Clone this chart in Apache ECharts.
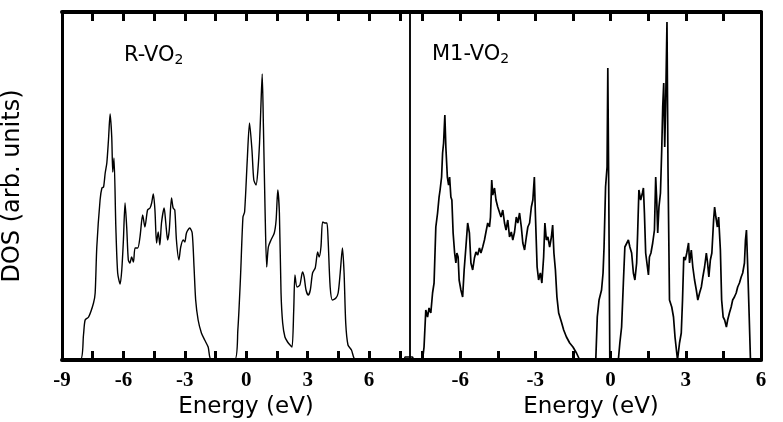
<!DOCTYPE html>
<html>
<head>
<meta charset="utf-8">
<script src="https://cdn.jsdelivr.net/npm/echarts@6/dist/echarts.min.js"></script>
<style>
html, body { margin: 0; padding: 0; background: #fff; }
#chart { width: 783px; height: 422px; }
</style>
</head>
<body>
<div id="chart"></div>
<script>
// Rutile VO2: total density of states vs energy (eV)
const rEnergy = [
  -9.0, -8.11, -7.95, -7.87, -7.70, -7.46, -7.38, -7.30, -7.14, -7.05, -6.97, -6.89, -6.81, -6.73,
  -6.65, -6.57, -6.52, -6.46, -6.37, -6.28, -6.16, -6.08, -6.00, -5.92, -5.84, -5.76, -5.68, -5.60,
  -5.51, -5.43, -5.30, -5.19, -5.06, -4.95, -4.82, -4.70, -4.62, -4.54, -4.46, -4.38, -4.30, -4.22,
  -4.14, -4.01, -3.93, -3.84, -3.76, -3.65, -3.57, -3.49, -3.41, -3.29, -3.20, -3.08, -3.00, -2.92,
  -2.76, -2.64, -2.55, -2.47, -2.35, -2.19, -2.03, -1.86, -1.70,
  -0.57, -0.41, -0.28, -0.16, -0.08, 0.05, 0.16, 0.28, 0.37, 0.48, 0.57, 0.65, 0.71, 0.78, 0.84,
  0.92, 1.00, 1.08, 1.21, 1.37, 1.46, 1.54, 1.62, 1.70, 1.78, 1.89, 2.02, 2.14, 2.24, 2.32, 2.38,
  2.48, 2.62, 2.75, 2.83, 2.92, 3.03, 3.13, 3.24, 3.37, 3.49, 3.56, 3.65, 3.73, 3.84, 3.94, 4.00,
  4.10, 4.21, 4.38, 4.49, 4.59, 4.70, 4.78, 4.86, 4.97, 5.14, 5.35,
  7.70, 7.76, 8.0
];
const rDos = [
  0, 0, 25, 40, 43, 57, 67, 113, 160, 172, 173, 187, 197, 220,
  246, 223, 188, 202, 133, 87, 76, 90, 120, 157, 133, 100, 97, 103,
  98, 112, 112, 123, 145, 133, 150, 152, 157, 166, 150, 117, 128, 115,
  137, 152, 137, 120, 130, 162, 152, 150, 120, 100, 113, 120, 118, 127,
  132, 127, 93, 60, 40, 27, 20, 13, 0,
  0, 30, 83, 143, 148, 200, 237, 210, 180, 175, 190, 217, 250, 286, 233,
  150, 93, 113, 120, 127, 140, 170, 147, 67, 37, 23, 18, 15, 13, 50, 85,
  73, 75, 88, 83, 70, 65, 70, 87, 92, 108, 103, 113, 138, 137, 137, 120,
  73, 60, 62, 67, 87, 112, 87, 37, 15, 10, 0,
  0, 3, 3
];

// Monoclinic M1 VO2: total density of states vs energy (eV)
const mEnergy = [
  -8.0, -7.9, -7.85, -7.50, -7.44, -7.37, -7.30, -7.24, -7.17, -7.10, -7.04, -6.97, -6.90, -6.84,
  -6.80, -6.74, -6.70, -6.66, -6.61, -6.57, -6.51, -6.46, -6.42, -6.37, -6.33, -6.28, -6.22, -6.17,
  -6.13, -6.08, -6.04, -5.97, -5.90, -5.84, -5.77, -5.70, -5.63, -5.57, -5.50, -5.43, -5.37, -5.30,
  -5.23, -5.17, -5.10, -5.03, -4.97, -4.90, -4.83, -4.79, -4.74, -4.70, -4.63, -4.57, -4.50, -4.43,
  -4.37, -4.30, -4.23, -4.17, -4.10, -4.03, -3.96, -3.90, -3.83, -3.76, -3.70, -3.63, -3.56, -3.50,
  -3.43, -3.36, -3.30, -3.23, -3.16, -3.10, -3.04, -3.00, -2.93, -2.87, -2.80, -2.74, -2.67, -2.62,
  -2.56, -2.50, -2.43, -2.36, -2.31, -2.26, -2.20, -2.14, -2.07, -1.96, -1.87, -1.76, -1.63, -1.50,
  -1.36, -1.23,
  -0.59, -0.53, -0.46, -0.36, -0.30, -0.26, -0.20, -0.14, -0.11, -0.07, -0.03,
  0.31, 0.37, 0.44, 0.51, 0.57, 0.64, 0.71, 0.77, 0.84, 0.91, 0.97, 1.04, 1.08, 1.13, 1.20, 1.27,
  1.31, 1.35, 1.40, 1.47, 1.51, 1.55, 1.61, 1.68, 1.75, 1.80, 1.84, 1.88, 1.93, 1.99, 2.04, 2.08,
  2.12, 2.16, 2.20, 2.25, 2.29, 2.35, 2.44, 2.51, 2.57, 2.67, 2.75, 2.82, 2.87, 2.92, 2.98, 3.04,
  3.11, 3.15, 3.22, 3.28, 3.35, 3.42, 3.48, 3.55, 3.62, 3.68, 3.75, 3.82, 3.87, 3.92, 3.98, 4.04,
  4.11, 4.15, 4.20, 4.26, 4.31, 4.38, 4.43, 4.49, 4.55, 4.62, 4.67, 4.74, 4.81, 4.87, 4.94, 5.01,
  5.07, 5.14, 5.21, 5.27, 5.34, 5.38, 5.42, 5.47, 5.53, 5.58, 6.0
];
const mDos = [
  3, 3, 0, 0, 13, 50, 43, 52, 47, 67, 77, 133, 147, 163,
  170, 183, 207, 217, 245, 213, 183, 175, 183, 163, 160, 127, 107, 97,
  107, 103, 80, 70, 63, 90, 113, 137, 127, 97, 90, 102, 108, 105,
  112, 107, 113, 120, 128, 137, 133, 143, 180, 165, 172, 160, 153, 155,
  143, 150, 137, 130, 140, 123, 128, 120, 128, 143, 137, 147, 133, 117,
  110, 123, 133, 137, 153, 160, 183, 147, 93, 80, 87, 77, 103, 137,
  120, 123, 113, 123, 135, 107, 90, 63, 47, 38, 30, 23, 17, 13,
  7, 0,
  0, 43, 60, 70, 87, 113, 173, 193, 292, 160, 0,
  0, 17, 33, 77, 113, 115, 120, 113, 107, 87, 80, 97, 127, 170, 160, 167,
  172, 147, 107, 93, 85, 103, 107, 117, 130, 183, 160, 127, 153, 167, 210, 253,
  277, 213, 260, 338, 193, 60, 53, 43, 23, 0, 17, 27, 60, 103, 100, 107,
  117, 97, 110, 93, 80, 70, 60, 67, 73, 83, 93, 107, 97, 83, 100, 107,
  140, 153, 143, 133, 143, 110, 60, 43, 40, 33, 40, 47, 53, 60, 63, 67,
  73, 77, 83, 87, 97, 120, 130, 93, 43, 0, 0
];

// Tick marks every 1.5 eV, labels every 3 eV
const leftTicks = [-7.5, -6, -4.5, -3, -1.5, 0, 1.5, 3, 4.5, 6, 7.5];
const leftLabels = [-9, -6, -3, 0, 3, 6];
const rightTicks = [-7.5, -6, -4.5, -3, -1.5, 0, 1.5, 3, 4.5];
const rightLabels = [-6, -3, 0, 3, 6];

const pairs = (xs, ys) => xs.map((x, i) => [x, ys[i]]);

const tickLabelStyle = {
  fontFamily: 'Liberation Serif',
  fontWeight: 'bold',
  fontSize: 21,
  color: '#000',
  margin: 10
};

function xAxes(grid, min, max, ticks, labels) {
  const common = {
    gridIndex: grid, type: 'value', min: min, max: max,
    splitLine: { show: false },
    axisLine: { onZero: false, lineStyle: { color: '#000', width: 4 } },
    axisTick: { inside: true, length: 9, customValues: ticks, lineStyle: { color: '#000', width: 3 } }
  };
  return [
    Object.assign({}, common, {
      position: 'bottom',
      axisLabel: Object.assign({ customValues: labels, showMinLabel: true, showMaxLabel: true }, tickLabelStyle)
    }),
    Object.assign({}, common, { position: 'top', axisLabel: { show: false } })
  ];
}

function yAxes(grid, leftWidth, rightWidth, extra) {
  const base = {
    gridIndex: grid, type: 'value', min: 0, max: 348,
    splitLine: { show: false }, axisTick: { show: false }, axisLabel: { show: false }
  };
  return [
    Object.assign({}, base, { position: 'left', axisLine: { onZero: false, lineStyle: { color: '#000', width: leftWidth } } }, extra || {}),
    Object.assign({}, base, { position: 'right', axisLine: { onZero: false, lineStyle: { color: '#000', width: rightWidth } } })
  ];
}

const chart = echarts.init(document.getElementById('chart'), null, { renderer: 'canvas' });

const option = {
  animation: false,
  backgroundColor: '#fff',
  grid: [
    { left: 60, right: 373, top: 12, bottom: 62 },
    { left: 410, right: 22, top: 12, bottom: 62 }
  ],
  xAxis: [].concat(
    xAxes(0, -9, 8, leftTicks, leftLabels),
    xAxes(1, -8, 6, rightTicks, rightLabels)
  ),
  yAxis: [].concat(
    yAxes(0, 3, 1.5, {
      name: 'DOS (arb. units)', nameLocation: 'middle', nameGap: 37,
      nameTextStyle: { fontFamily: 'DejaVu Sans', fontSize: 24, color: '#000' }
    }),
    yAxes(1, 1.5, 3)
  ),
  series: [
    {
      type: 'line', xAxisIndex: 0, yAxisIndex: 0,
      data: pairs(rEnergy, rDos),
      showSymbol: false, smooth: 0.25,
      lineStyle: { color: '#000', width: 1.4 }
    },
    {
      type: 'line', xAxisIndex: 2, yAxisIndex: 2,
      data: pairs(mEnergy, mDos),
      showSymbol: false,
      lineStyle: { color: '#000', width: 1.7 }
    }
  ],
  graphic: [
    {
      type: 'text', left: 124, top: 44,
      style: {
        text: '{a|R-VO}{s|2}',
        rich: {
          a: { fontFamily: 'DejaVu Sans', fontSize: 21, fill: '#000', lineHeight: 26 },
          s: { fontFamily: 'DejaVu Sans', fontSize: 14, fill: '#000', lineHeight: 26, padding: [9, 0, 0, 0] }
        }
      }
    },
    {
      type: 'text', left: 432, top: 43,
      style: {
        text: '{a|M1-VO}{s|2}',
        rich: {
          a: { fontFamily: 'DejaVu Sans', fontSize: 21, fill: '#000', lineHeight: 26 },
          s: { fontFamily: 'DejaVu Sans', fontSize: 14, fill: '#000', lineHeight: 26, padding: [9, 0, 0, 0] }
        }
      }
    },
    {
      type: 'text', x: 246, y: 407,
      style: { text: 'Energy (eV)', fontFamily: 'DejaVu Sans', fontSize: 23, fill: '#000', align: 'center', verticalAlign: 'middle' }
    },
    {
      type: 'text', x: 591, y: 407,
      style: { text: 'Energy (eV)', fontFamily: 'DejaVu Sans', fontSize: 23, fill: '#000', align: 'center', verticalAlign: 'middle' }
    }
  ]
};

chart.setOption(option);
</script>
</body>
</html>
